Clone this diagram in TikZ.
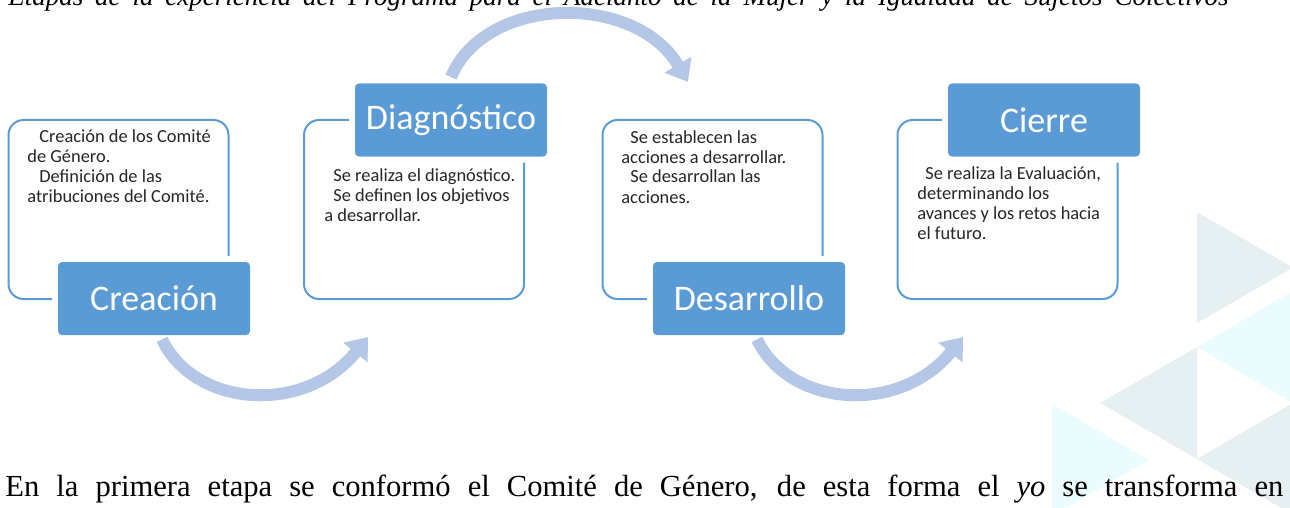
\documentclass[tikz,border=0pt]{standalone}
\usepackage{fontspec}
\setmainfont{Liberation Serif}
\newfontfamily\carlito{Carlito}
\usetikzlibrary{arrows.meta}
\definecolor{etapa}{RGB}{91,155,213}
\definecolor{flecha}{RGB}{180,199,231}
\definecolor{trigris}{RGB}{230,240,243}
\definecolor{trician}{RGB}{234,252,254}

\begin{document}
\begin{tikzpicture}[x=0.5pt, y=-0.5pt,
	caja/.style={draw=etapa, line width=1pt, fill=white, rounded corners=7.5pt, minimum width=110pt, minimum height=89.5pt},
	titulo/.style={fill=etapa, rounded corners=2pt, minimum width=96pt, minimum height=36.5pt, text=white, font=\carlito\fontsize{18}{20}\selectfont, preaction={draw=white, line width=6pt}},
	texto/.style={anchor=base west, align=left, inner sep=0pt, text=black!85, font=\carlito\fontsize{9.2}{10}\selectfont},
	flechita/.style={flecha, line width=6pt, -{Triangle[width=15pt, length=10pt]}}]
	\useasboundingbox (0,0) rectangle (1290,508);
	\clip (0,0) rectangle (1290,508);
	\fill[trigris] (1197,212)--(1197,323)--(1293,267.5)--cycle;
	\fill[trician] (1293,291)--(1197,347)--(1293,403)--cycle;
	\fill[trigris] (1197,347)--(1197,459)--(1100,403)--cycle;
	\fill[trigris] (1293,403)--(1197,459)--(1293,515)--cycle;
	\fill[trician] (1052,404)--(1052,516)--(1149,460)--cycle;
	\node[anchor=base west, inner sep=0pt, font=\itshape\fontsize{13.5}{16}\selectfont] (leyenda) at (8,6) {\makebox[610pt][s]{Etapas de la experiencia del Programa para el Adelanto de la Mujer y la Igualdad de Sujetos Colectivos}};
	\node[anchor=base west, inner sep=0pt, font=\fontsize{15.3}{18}\selectfont] (parrafo) at (5,496) {\makebox[639pt][s]{En la primera etapa se conformó el Comité de Género, de esta forma el \textit{yo} se transforma en}};
	\node[caja] (crea-caja) at (118.5,209.5) {};
	\node[caja] (diag-caja) at (414,209.5) {};
	\node[caja] (desa-caja) at (712.5,209.5) {};
	\node[caja] (cier-caja) at (1007.5,209.5) {};
	\node[texto] (crea-txt) at (27,202) {\hspace*{6pt}Creación de los Comité\\de Género.\\\hspace*{6pt}Definición de las\\atribuciones del Comité.};
	\node[texto] (diag-txt) at (324,221.5) {\hspace*{4.5pt}Se realiza el diagnóstico.\\\hspace*{4.5pt}Se definen los objetivos\\a desarrollar.};
	\node[texto] (desa-txt) at (621,203) {\hspace*{4.5pt}Se establecen las\\acciones a desarrollar.\\\hspace*{4.5pt}Se desarrollan las\\acciones.};
	\node[texto] (cier-txt) at (917,239) {\hspace*{4pt}Se realiza la Evaluación,\\determinando los\\avances y los retos hacia\\el futuro.};
	\coordinate (puntaA) at (368,337);
	\coordinate (puntaB) at (688,82);
	\coordinate (puntaC) at (963,337);
	\node[titulo] (crea) at (154,298.5) {Creación};
	\node[titulo] (diag) at (451,120) {Diagnóstico};
	\node[titulo] (desa) at (749,298.5) {Desarrollo};
	\node[titulo] (cier) at (1044,120) {Cierre};
	\draw[flechita] ([xshift=4pt, yshift=-2pt]crea.south) .. controls (195,408) and (305,415) .. (puntaA);
	\draw[flechita] ([yshift=3pt]diag.north) .. controls (485,-5) and (635,-8) .. (puntaB);
	\draw[flechita] ([xshift=4pt, yshift=-2pt]desa.south) .. controls (790,408) and (900,415) .. (puntaC);
\end{tikzpicture}
\end{document}
